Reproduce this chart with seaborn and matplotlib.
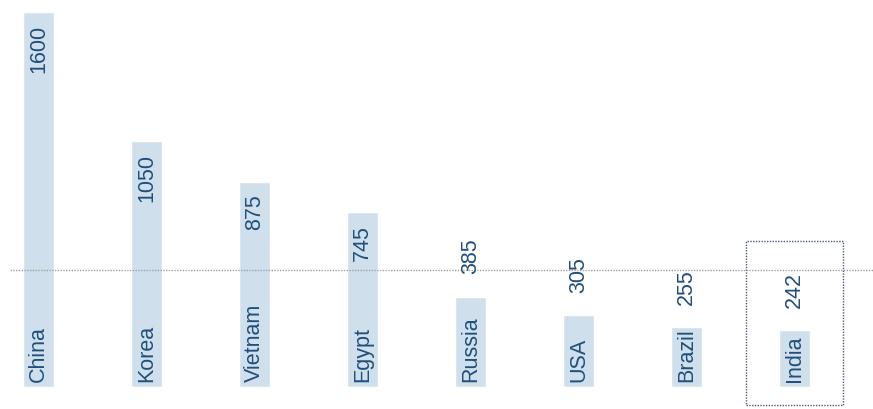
import matplotlib
matplotlib.use('Agg')
import matplotlib.pyplot as plt
import seaborn as sns
from matplotlib.patches import Rectangle

# data
countries = ['China', 'Korea', 'Vietnam', 'Egypt', 'Russia', 'USA', 'Brazil', 'India']
values = [1600, 1050, 875, 745, 385, 305, 255, 242]
ref_line = 500
highlight = 'India'

bar_color = '#cfe0ec'
text_color = '#1f4f7b'

sns.set_style('white')
plt.rcParams['font.family'] = ['Liberation Sans', 'DejaVu Sans']

fig = plt.figure(figsize=(8.73, 4.10), dpi=100)
ax = fig.add_axes([0, 0, 1, 1])

sns.barplot(x=countries, y=values, color=bar_color, saturation=1, width=0.28, ax=ax)

ax.set_xlim(-0.356, 7.727)
ax.set_ylim(-95, 1655)
ax.axis('off')

# reference line
ax.plot([-0.264, 7.727], [ref_line, ref_line], color='#a0a0a0', linestyle=(0, (1, 1)), linewidth=1)

for i, (c, v) in enumerate(zip(countries, values)):
    # category name at the base of the bar
    ax.annotate(c, (i, 0), xytext=(0, 4), textcoords='offset points',
                rotation=90, ha='center', va='bottom', fontsize=15.5, color=text_color)
    # value label: inside the bar if tall, above otherwise
    if v > ref_line:
        ax.annotate(str(v), (i, v), xytext=(0, -8.6), textcoords='offset points',
                    rotation=90, ha='center', va='top', fontsize=15.5, color=text_color)
    else:
        ax.annotate(str(v), (i, v), xytext=(0, 16.6), textcoords='offset points',
                    rotation=90, ha='center', va='bottom', fontsize=15.5, color=text_color)

# highlight box
hi = countries.index(highlight)
ax.add_patch(Rectangle((hi - 0.45, -77), 0.9, 697, fill=False, edgecolor='#4a5a7a',
                       linestyle=(0, (1, 1)), linewidth=1, clip_on=False))

fig.savefig('out.png', dpi=100)
